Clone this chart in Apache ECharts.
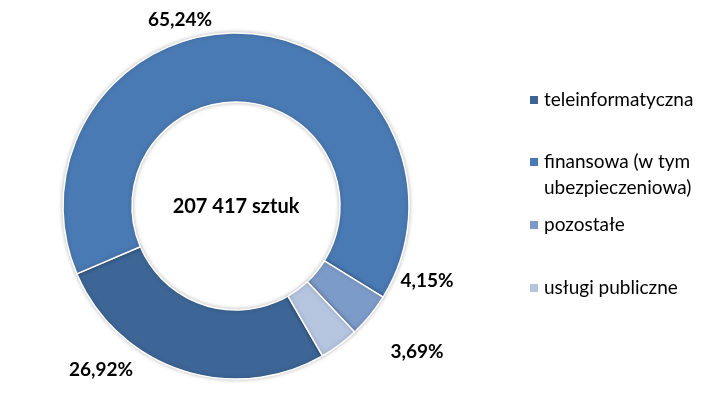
<!DOCTYPE html>
<html>
<head>
<meta charset="utf-8">
<script src="https://cdn.jsdelivr.net/npm/echarts@6/dist/echarts.min.js"></script>
<style>
  html, body { margin: 0; padding: 0; background: #fff; }
  #chart { width: 718px; height: 397px; }
</style>
</head>
<body>
<div id="chart"></div>
<script>
let categories = ['teleinformatyczna', 'finansowa (w tym ubezpieczeniowa)', 'pozostałe', 'usługi publiczne'];
let shares = [26.92, 65.24, 4.15, 3.69];
let totalLabel = '207 417 sztuk';

let colors = ['#3d6595', '#4a7ab3', '#7d9bc9', '#b5c5e0'];
// label spots (Excel placed them by hand)
let labelSpots = [[101, 370], [180, 20], [427, 281], [417, 352]];
let legendCenters = [100, 162, 225, 288];
let fontName = 'Lato, "Open Sans", sans-serif';

let chart = echarts.init(document.getElementById('chart'));

let legends = categories.map(function (name, i) {
    let twoLines = name.indexOf('(') > 0;
    return {
        orient: 'vertical',
        left: 528,
        top: twoLines ? legendCenters[i] - 39 : legendCenters[i] - 13,
        padding: 0,
        itemWidth: 10,
        itemHeight: 10,
        icon: 'rect',
        selectedMode: false,
        data: [name],
        formatter: function (n) {
            // leading blank line keeps the icon level with the first line
            return twoLines ? '\n' + n.replace('(w tym ', '(w tym\n') : n;
        },
        textStyle: {
            fontFamily: fontName,
            fontSize: 19,
            color: '#000',
            lineHeight: 26
        }
    };
});

let option = {
    animation: false,
    color: colors,
    legend: legends,
    graphic: [{
        type: 'text',
        x: 236,
        y: 207,
        style: {
            text: totalLabel,
            align: 'center',
            verticalAlign: 'middle',
            fontFamily: fontName,
            fontWeight: 'bold',
            fontSize: 20,
            fill: '#000'
        }
    }],
    series: [{
        type: 'pie',
        center: [236, 206],
        radius: [104, 173],
        startAngle: 300,
        clockwise: true,
        avoidLabelOverlap: false,
        data: categories.map(function (c, i) {
            return { name: c, value: shares[i] };
        }),
        itemStyle: {
            borderColor: '#fff',
            borderWidth: 1.5,
            shadowBlur: 4,
            shadowColor: 'rgba(0,0,0,0.25)'
        },
        label: {
            show: true,
            position: 'outside',
            fontFamily: fontName,
            fontWeight: 'bold',
            fontSize: 19,
            color: '#000',
            formatter: function (p) {
                return p.value.toFixed(2).replace('.', ',') + '%';
            }
        },
        labelLine: { show: false },
        labelLayout: function (p) {
            let s = labelSpots[p.dataIndex];
            return { x: s[0], y: s[1], align: 'center', verticalAlign: 'middle' };
        },
        emphasis: { disabled: true }
    }]
};

chart.setOption(option);
</script>
</body>
</html>
